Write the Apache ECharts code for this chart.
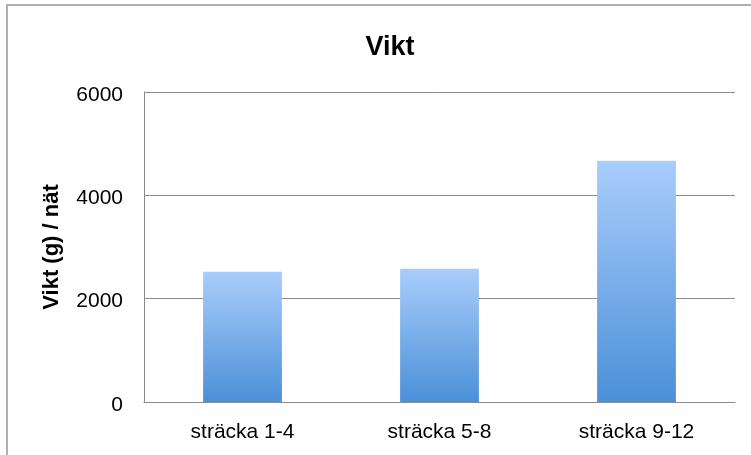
<!DOCTYPE html>
<html>
<head>
<meta charset="utf-8">
<script src="https://cdn.jsdelivr.net/npm/echarts@6/dist/echarts.min.js"></script>
<style>
  html, body { margin: 0; padding: 0; background: #fff; }
  #chart { width: 751px; height: 455px; }
</style>
</head>
<body>
<div id="chart"></div>
<script>
  // data
  var categories = ['sträcka 1-4', 'sträcka 5-8', 'sträcka 9-12'];
  var weights = [2520, 2580, 4670];
  var yTicks = [0, 2000, 4000, 6000];

  var font = '"Liberation Sans", Arial, sans-serif';
  var chart = echarts.init(document.getElementById('chart'));

  var option = {
    backgroundColor: '#fff',
    animation: false,
    title: {
      text: 'Vikt',
      left: 385,
      top: 29,
      textAlign: 'center',
      textStyle: { fontFamily: font, fontSize: 27, fontWeight: 'bold', color: '#000' }
    },
    graphic: [{
      type: 'rect',
      shape: { x: 7, y: 5, width: 800, height: 500 },
      style: { fill: 'none', stroke: '#b0b0b0', lineWidth: 2 },
      silent: true
    }],
    grid: { left: 144, right: 16, top: 92, bottom: 53 },
    xAxis: {
      type: 'category',
      data: categories,
      axisLine: { lineStyle: { color: '#8a8a8a', width: 1 } },
      axisTick: { show: false },
      axisLabel: { fontFamily: font, fontSize: 21, color: '#000', margin: 20 }
    },
    yAxis: {
      type: 'value',
      min: yTicks[0],
      max: yTicks[yTicks.length - 1],
      interval: yTicks[1] - yTicks[0],
      name: 'Vikt (g) / nät',
      nameLocation: 'middle',
      nameGap: 81,
      nameTextStyle: { fontFamily: font, fontSize: 22, fontWeight: 'bold', color: '#000' },
      axisLine: { show: true, lineStyle: { color: '#8a8a8a', width: 1 } },
      axisTick: { show: false },
      axisLabel: {
        margin: 21,
        formatter: function (v) { return '{t|' + v + '}'; },
        rich: {
          t: { fontFamily: font, fontSize: 21, color: '#000', padding: [6, 0, 0, 0] }
        }
      },
      splitLine: { lineStyle: { color: '#8a8a8a', width: 1 } }
    },
    series: [{
      type: 'bar',
      data: weights,
      barWidth: '40%',
      itemStyle: {
        color: new echarts.graphic.LinearGradient(0, 0, 0, 1, [
          { offset: 0, color: '#a9cdfb' },
          { offset: 1, color: '#4b90d8' }
        ])
      }
    }]
  };

  chart.setOption(option);
</script>
</body>
</html>
